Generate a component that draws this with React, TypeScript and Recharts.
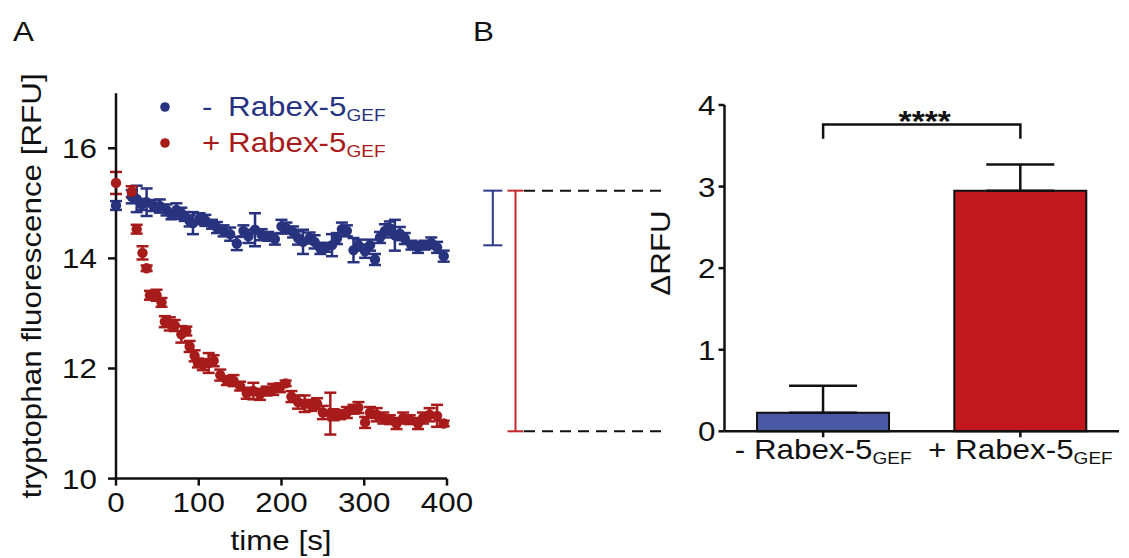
import React from 'react';
import {
  ScatterChart,
  Scatter,
  XAxis,
  YAxis,
  ErrorBar,
  Legend,
  BarChart,
  Bar,
  Cell,
  ReferenceArea
} from 'recharts';

const FONT = '"Liberation Sans", Arial, Helvetica, sans-serif';
const SX = 1.12;
const INK = '#111111';
const NAVY = '#28337f';
const CRIMSON = '#a81b1b';

// panel A: tryptophan fluorescence over time
const blueTime = [0, 19, 25, 31, 37, 45, 53, 61, 67, 73, 79, 83, 89, 93, 101, 108, 116, 122, 130, 138, 146, 154, 160, 168, 176, 184, 192, 200, 206, 214, 220, 226, 234, 240, 247, 253, 261, 267, 273, 279, 287, 293, 301, 307, 313, 319, 325, 331, 337, 343, 349, 357, 365, 373, 381, 388, 396];
const blueRfu = [14.96, 15.12, 15.08, 14.98, 15.02, 14.96, 14.95, 14.88, 14.79, 14.88, 14.82, 14.76, 14.68, 14.64, 14.72, 14.69, 14.62, 14.56, 14.5, 14.44, 14.27, 14.5, 14.4, 14.52, 14.43, 14.4, 14.35, 14.58, 14.55, 14.48, 14.37, 14.3, 14.37, 14.3, 14.18, 14.2, 14.24, 14.36, 14.53, 14.5, 14.15, 14.24, 14.13, 14.24, 13.98, 14.38, 14.5, 14.55, 14.42, 14.45, 14.36, 14.24, 14.2, 14.24, 14.28, 14.2, 14.04];
const blueSem = [0.08, 0.12, 0.24, 0.1, 0.25, 0.1, 0.12, 0.1, 0.08, 0.12, 0.1, 0.08, 0.1, 0.2, 0.1, 0.1, 0.08, 0.1, 0.1, 0.12, 0.12, 0.1, 0.12, 0.3, 0.1, 0.08, 0.1, 0.12, 0.1, 0.1, 0.12, 0.22, 0.1, 0.12, 0.1, 0.08, 0.2, 0.1, 0.12, 0.1, 0.22, 0.1, 0.12, 0.1, 0.1, 0.1, 0.12, 0.12, 0.28, 0.12, 0.1, 0.08, 0.1, 0.08, 0.1, 0.1, 0.1];

const redTime = [0, 19, 25, 32, 37, 41, 49, 55, 59, 65, 71, 79, 85, 89, 95, 99, 105, 112, 118, 126, 134, 142, 150, 158, 166, 174, 182, 190, 198, 205, 212, 220, 228, 236, 243, 250, 259, 263, 271, 279, 287, 293, 301, 307, 315, 323, 331, 339, 347, 355, 365, 371, 379, 388, 396];
const redRfu = [15.37, 15.21, 14.53, 14.1, 13.82, 13.33, 13.33, 13.2, 12.85, 12.81, 12.78, 12.62, 12.68, 12.4, 12.23, 12.1, 12.07, 12.1, 12.14, 11.88, 11.78, 11.78, 11.68, 11.55, 11.59, 11.53, 11.59, 11.62, 11.65, 11.73, 11.49, 11.39, 11.36, 11.33, 11.36, 11.2, 11.18, 11.16, 11.16, 11.2, 11.26, 11.29, 11.02, 11.2, 11.16, 11.1, 11.07, 11.0, 11.1, 11.07, 11.0, 11.1, 11.16, 11.14, 11.0];
const redSem = [0.2, 0.1, 0.08, 0.12, 0.05, 0.08, 0.1, 0.08, 0.1, 0.12, 0.1, 0.15, 0.08, 0.1, 0.1, 0.08, 0.1, 0.18, 0.1, 0.1, 0.08, 0.1, 0.08, 0.1, 0.15, 0.1, 0.08, 0.1, 0.08, 0.05, 0.1, 0.12, 0.15, 0.1, 0.1, 0.12, 0.38, 0.1, 0.08, 0.1, 0.08, 0.1, 0.1, 0.1, 0.12, 0.1, 0.08, 0.1, 0.1, 0.08, 0.1, 0.1, 0.12, 0.2, 0.05];

const timeTicks = [0, 100, 200, 300, 400];
const rfuTicks = [10, 12, 14, 16];

// panel B: fluorescence drop
const groups = ['-', '+'];
const deltaRfu = [0.227, 2.95];
const deltaSem = [0.33, 0.32];
const barColors = ['#4a59a6', '#c0181c'];
const deltaTicks = [0, 1, 2, 3, 4];
const dropTop = 2.95;
const blueDropBottom = 2.28;
const bracketLow = 3.585;
const bracketHigh = 3.76;

const axisStyle = { stroke: INK, strokeWidth: 2.5 };

function SText({ x, y, size = 28, anchor = 'middle', angle = 0, fill = INK, weight = 'normal', children }: any) {
  return (
    <text
      transform={`translate(${x} ${y}) rotate(${angle}) scale(${SX} 1)`}
      textAnchor={anchor}
      fontFamily={FONT}
      fontSize={size}
      fontWeight={weight}
      fill={fill}
    >
      {children}
    </text>
  );
}

function Rabex({ sign }: { sign: string }) {
  return (
    <>
      {sign} Rabex-5<tspan fontSize={17} dy={5}>GEF</tspan>
    </>
  );
}

const rfuTick = ({ x, y, payload }: any) => (
  <SText x={x} y={y + 10} anchor="end">{payload.value}</SText>
);

const timeTick = ({ x, y, payload }: any) => (
  <SText x={x} y={y + 26}>{payload.value}</SText>
);

const deltaTick = ({ x, y, payload }: any) => (
  <SText x={x} y={y + 10} anchor="end">{payload.value}</SText>
);

const groupTick = ({ x, y, payload }: any) => (
  <SText x={x} y={y + 22}><Rabex sign={payload.value} /></SText>
);

const dot = (color: string) => (p: any) => <circle cx={p.cx} cy={p.cy} r={5.2} fill={color} />;

const legendRows = [
  { sign: '-', color: NAVY },
  { sign: '+', color: CRIMSON }
];

function LegendBox() {
  return (
    <svg width={260} height={80}>
      {legendRows.map((row, i) => (
        <g key={row.sign}>
          <circle cx={15} cy={22 + i * 36} r={4.8} fill={row.color} />
          <SText x={52} y={31 + i * 36} anchor="start" fill={row.color}>{row.sign}</SText>
          <SText x={78} y={31 + i * 36} anchor="start" fill={row.color}>
            Rabex-5<tspan fontSize={17} dy={5}>GEF</tspan>
          </SText>
        </g>
      ))}
    </svg>
  );
}

function DropMarks(props: any) {
  const { x, y, height } = props;
  const bottom = y + height;
  const rx = x - 209;
  return (
    <g>
      <line x1={x - 200.5} x2={x - 57.5} y1={y} y2={y} stroke={INK} strokeWidth={2} strokeDasharray="11 7" />
      <line x1={x - 200.5} x2={x - 57.5} y1={bottom} y2={bottom} stroke={INK} strokeWidth={2} strokeDasharray="11 7" />
      <line x1={rx} x2={rx} y1={y} y2={bottom} stroke="#c2292d" strokeWidth={2} />
      <line x1={rx - 8} x2={rx + 8} y1={y} y2={y} stroke="#c2292d" strokeWidth={2} />
      <line x1={rx - 8} x2={rx + 8} y1={bottom} y2={bottom} stroke="#c2292d" strokeWidth={2} />
    </g>
  );
}

function BlueDrop(props: any) {
  const { x, y, height } = props;
  const bx = x - 231.7;
  return (
    <g>
      <line x1={bx} x2={bx} y1={y} y2={y + height} stroke="#2c3a8a" strokeWidth={2} />
      <line x1={bx - 9.5} x2={bx + 9.5} y1={y} y2={y} stroke="#2c3a8a" strokeWidth={2} />
      <line x1={bx - 9.5} x2={bx + 9.5} y1={y + height} y2={y + height} stroke="#2c3a8a" strokeWidth={2} />
    </g>
  );
}

function Bracket(props: any) {
  const { x, y, width, height } = props;
  const left = x + width * 0.25;
  const right = x + width * 0.75;
  return (
    <g>
      <path
        d={`M${left},${y + height} L${left},${y} L${right},${y} L${right},${y + height}`}
        fill="none"
        stroke={INK}
        strokeWidth={2.5}
      />
      <SText x={(left + right) / 2 + 3} y={y + 6} size={30} weight="bold">****</SText>
    </g>
  );
}

export default function App() {
  const blueData = blueTime.map((t, i) => ({ t, v: blueRfu[i], e: blueSem[i] }));
  const redData = redTime.map((t, i) => ({ t, v: redRfu[i], e: redSem[i] }));
  const barData = groups.map((g, i) => ({ group: g, value: deltaRfu[i], err: [0, deltaSem[i]] }));

  return (
    <div style={{ position: 'absolute', left: 0, top: 0, width: 1129, height: 558, background: '#fff' }}>
      <div style={{ position: 'absolute', left: 0, top: 0 }}>
        <ScatterChart width={480} height={558} margin={{ top: 93.2, right: 33, bottom: 19.4, left: 56 }}>
          <XAxis
            type="number"
            dataKey="t"
            domain={[0, 400]}
            ticks={timeTicks}
            interval={0}
            height={60}
            axisLine={axisStyle}
            tickLine={axisStyle}
            tickSize={7}
            tickMargin={0}
            tick={timeTick}
          />
          <YAxis
            type="number"
            dataKey="v"
            domain={[10, 17]}
            ticks={rfuTicks}
            interval={0}
            width={60}
            axisLine={axisStyle}
            tickLine={axisStyle}
            tickSize={8}
            tickMargin={11}
            tick={rfuTick}
          />
          <Legend
            layout="horizontal"
            verticalAlign="middle"
            align="center"
            content={() => <LegendBox />}
            wrapperStyle={{ left: 150, top: 85, width: 260, height: 80 }}
          />
          <Scatter data={blueData} fill={NAVY} shape={dot(NAVY)} isAnimationActive={false}>
            <ErrorBar dataKey="e" direction="y" width={6} stroke={NAVY} strokeWidth={2.5} />
          </Scatter>
          <Scatter data={redData} fill={CRIMSON} shape={dot(CRIMSON)} isAnimationActive={false}>
            <ErrorBar dataKey="e" direction="y" width={6} stroke={CRIMSON} strokeWidth={2.5} />
          </Scatter>
        </ScatterChart>
      </div>

      <div style={{ position: 'absolute', left: 460, top: 0 }}>
        <BarChart
          width={669}
          height={558}
          data={barData}
          barCategoryGap="16.5%"
          margin={{ top: 105, right: 10, bottom: 66.7, left: 184.5 }}
        >
          <XAxis
            dataKey="group"
            height={60}
            axisLine={axisStyle}
            tickLine={axisStyle}
            tickSize={6}
            tickMargin={0}
            tick={groupTick}
            interval={0}
          />
          <YAxis
            domain={[0, 4]}
            ticks={deltaTicks}
            interval={0}
            width={80}
            axisLine={axisStyle}
            tickLine={axisStyle}
            tickSize={6}
            tickMargin={3}
            tick={deltaTick}
          />
          <ReferenceArea y1={0} y2={dropTop} ifOverflow="visible" shape={DropMarks} />
          <ReferenceArea y1={blueDropBottom} y2={dropTop} ifOverflow="visible" shape={BlueDrop} />
          <ReferenceArea x1="-" x2="+" y1={bracketLow} y2={bracketHigh} ifOverflow="visible" shape={Bracket} />
          <Bar dataKey="value" stroke={INK} strokeWidth={2} isAnimationActive={false}>
            {barData.map((d, i) => (
              <Cell key={d.group} fill={barColors[i]} />
            ))}
            <ErrorBar dataKey="err" direction="y" width={34} stroke={INK} strokeWidth={2.5} />
          </Bar>
        </BarChart>
      </div>

      <svg width={1129} height={558} style={{ position: 'absolute', left: 0, top: 0, pointerEvents: 'none' }}>
        <SText x={13} y={41} anchor="start">A</SText>
        <SText x={473} y={41} anchor="start">B</SText>
        <SText x={41} y={286} angle={-90}>tryptophan fluorescence [RFU]</SText>
        <SText x={281} y={550}>time [s]</SText>
        <SText x={670} y={253} angle={-90}>ΔRFU</SText>
      </svg>
    </div>
  );
}
